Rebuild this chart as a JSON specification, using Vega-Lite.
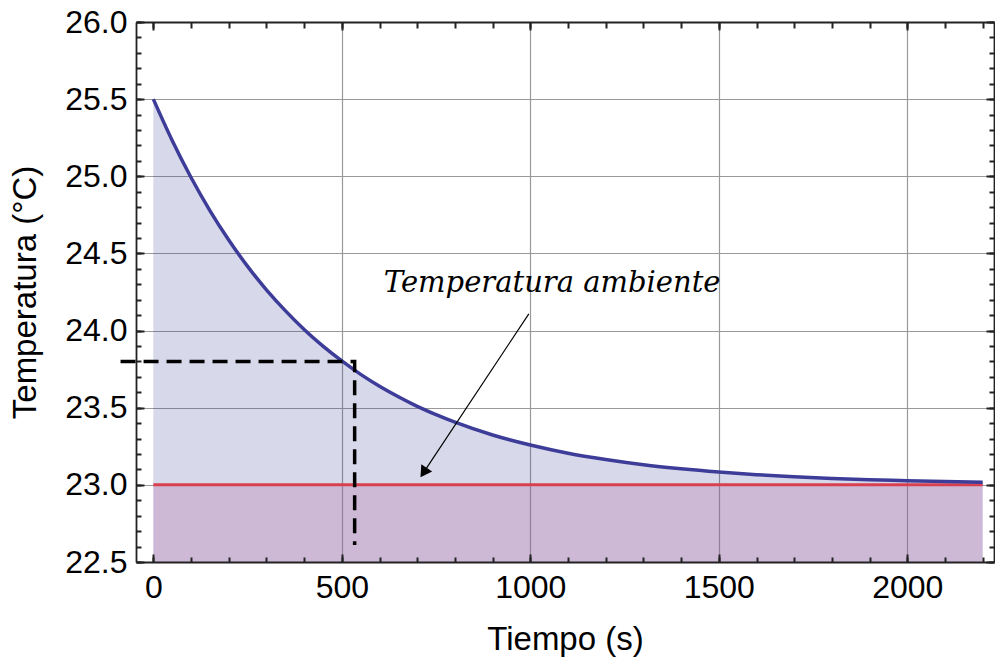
{
  "$schema": "https://vega.github.io/schema/vega-lite/v6.json",
  "width": 858,
  "height": 540,
  "autosize": {"type": "none"},
  "padding": {"left": 136, "top": 22, "right": 1, "bottom": 99},
  "background": "white",
  "config": {
    "view": {"stroke": null},
    "axis": {
      "labelFont": "Liberation Sans",
      "titleFont": "Liberation Sans",
      "labelFontSize": 32,
      "titleFontSize": 33,
      "labelColor": "black",
      "titleColor": "black",
      "titleFontWeight": "normal",
      "domainColor": "#222222",
      "domainWidth": 1.8,
      "gridColor": "#999999",
      "gridWidth": 1.2
    }
  },
  "datasets": {
    "curve": [
      {"t": 0, "T": 25.5}, {"t": 50, "T": 25.232}, {"t": 100, "T": 24.992}, {"t": 150, "T": 24.778},
      {"t": 200, "T": 24.587}, {"t": 250, "T": 24.416}, {"t": 300, "T": 24.264}, {"t": 350, "T": 24.129},
      {"t": 400, "T": 24.007}, {"t": 450, "T": 23.899}, {"t": 500, "T": 23.803}, {"t": 550, "T": 23.716},
      {"t": 600, "T": 23.639}, {"t": 650, "T": 23.571}, {"t": 700, "T": 23.509}, {"t": 750, "T": 23.455},
      {"t": 800, "T": 23.406}, {"t": 900, "T": 23.323}, {"t": 1000, "T": 23.258}, {"t": 1100, "T": 23.205},
      {"t": 1200, "T": 23.164}, {"t": 1300, "T": 23.13}, {"t": 1400, "T": 23.104}, {"t": 1500, "T": 23.083},
      {"t": 1600, "T": 23.066}, {"t": 1700, "T": 23.053}, {"t": 1800, "T": 23.042}, {"t": 1900, "T": 23.033},
      {"t": 2000, "T": 23.027}, {"t": 2100, "T": 23.021}, {"t": 2200, "T": 23.017}
    ],
    "ambient": [{"t": 0, "T": 23.0}, {"t": 2200, "T": 23.0}],
    "dashed": [{"t": -87, "T": 23.8}, {"t": 534, "T": 23.8}, {"t": 534, "T": 22.61}],
    "arrow": [{"t": 996, "T": 24.108}, {"t": 714, "T": 23.07}],
    "arrowhead": [{"t": 717, "T": 23.08}],
    "label": [{"t": 1058, "T": 24.309, "label": "Temperatura ambiente"}]
  },
  "resolve": {"axis": {"x": "independent", "y": "independent"}},
  "layer": [
    {
      "data": {"name": "curve"},
      "mark": {"type": "area", "fill": "#3d3d99", "fillOpacity": 0.2, "interpolate": "monotone"},
      "encoding": {
        "x": {"field": "t", "type": "quantitative", "scale": {"domain": [-46, 2230], "nice": false, "zero": false},
          "axis": {"values": [0, 500, 1000, 1500, 2000], "grid": true, "ticks": false, "labels": false, "domain": false, "title": null,
            "gridOpacity": {"condition": {"test": "datum.value === 0", "value": 0}, "value": 1}}},
        "y": {"field": "T", "type": "quantitative", "scale": {"domain": [22.5, 26.0], "nice": false, "zero": false},
          "axis": {"values": [23.0, 23.5, 24.0, 24.5, 25.0, 25.5], "grid": true, "ticks": false, "labels": false, "domain": false, "title": null}},
        "y2": {"datum": 22.5}
      }
    },
    {
      "data": {"name": "ambient"},
      "mark": {"type": "area", "fill": "#b371a2", "fillOpacity": 0.3},
      "encoding": {
        "x": {"field": "t", "type": "quantitative", "scale": {"domain": [-46, 2230], "nice": false, "zero": false},
          "axis": {"orient": "bottom", "values": [0, 500, 1000, 1500, 2000], "format": "d", "grid": false, "ticks": false, "labels": true, "domain": true,
            "labelPadding": 10, "title": "Tiempo (s)", "titlePadding": 20, "zindex": 1}},
        "y": {"field": "T", "type": "quantitative", "scale": {"domain": [22.5, 26.0], "nice": false, "zero": false},
          "axis": {"orient": "left", "values": [22.5, 23.0, 23.5, 24.0, 24.5, 25.0, 25.5, 26.0], "format": ".1f", "grid": false, "ticks": false,
            "labels": true, "domain": true, "labelPadding": 9, "title": "Temperatura (°C)", "titlePadding": 22, "zindex": 1}},
        "y2": {"datum": 22.5}
      }
    },
    {
      "data": {"name": "ambient"},
      "mark": {"type": "line", "color": "#d9404f", "strokeWidth": 3},
      "encoding": {
        "x": {"field": "t", "type": "quantitative", "scale": {"domain": [-46, 2230], "nice": false, "zero": false},
          "axis": {"orient": "bottom", "values": [0, 500, 1000, 1500, 2000], "grid": false, "ticks": true, "tickSize": {"expr": "-8"}, "tickColor": "#222222", "tickWidth": 2, "tickOpacity": 1, "labels": false, "domain": false, "title": null, "zindex": 1}},
        "y": {"field": "T", "type": "quantitative", "scale": {"domain": [22.5, 26.0], "nice": false, "zero": false},
          "axis": {"orient": "left", "values": [22.5, 23.0, 23.5, 24.0, 24.5, 25.0, 25.5, 26.0], "grid": false, "ticks": true, "tickSize": {"expr": "-8"}, "tickColor": "#222222", "tickWidth": 2, "tickOpacity": 1, "labels": false, "domain": false, "title": null, "zindex": 1}}
      }
    },
    {
      "data": {"name": "curve"},
      "mark": {"type": "line", "color": "#3d3d99", "strokeWidth": 3.5, "interpolate": "monotone"},
      "encoding": {
        "x": {"field": "t", "type": "quantitative", "scale": {"domain": [-46, 2230], "nice": false, "zero": false},
          "axis": {"orient": "bottom", "values": [0, 100, 200, 300, 400, 500, 600, 700, 800, 900, 1000, 1100, 1200, 1300, 1400, 1500, 1600, 1700, 1800, 1900, 2000, 2100, 2200],
            "grid": false, "ticks": true, "tickSize": {"expr": "-5"}, "tickColor": "#222222", "tickWidth": 2, "tickOpacity": 1, "labels": false, "domain": false, "title": null, "zindex": 1}},
        "y": {"field": "T", "type": "quantitative", "scale": {"domain": [22.5, 26.0], "nice": false, "zero": false},
          "axis": {"orient": "left", "values": [22.5, 22.6, 22.7, 22.8, 22.9, 23.0, 23.1, 23.2, 23.3, 23.4, 23.5, 23.6, 23.7, 23.8, 23.9, 24.0, 24.1, 24.2, 24.3, 24.4, 24.5, 24.6, 24.7, 24.8, 24.9, 25.0, 25.1, 25.2, 25.3, 25.4, 25.5, 25.6, 25.7, 25.8, 25.9, 26.0],
            "grid": false, "ticks": true, "tickSize": {"expr": "-5"}, "tickColor": "#222222", "tickWidth": 2, "tickOpacity": 1, "labels": false, "domain": false, "title": null, "zindex": 1}}
      }
    },
    {
      "data": {"name": "dashed"},
      "mark": {"type": "line", "color": "black", "strokeWidth": 3.5, "strokeDash": [15, 8], "clip": false},
      "encoding": {
        "x": {"field": "t", "type": "quantitative", "scale": {"domain": [-46, 2230], "nice": false, "zero": false},
          "axis": {"orient": "top", "values": [0, 500, 1000, 1500, 2000], "grid": false, "ticks": true, "tickSize": {"expr": "-8"}, "tickColor": "#222222", "tickWidth": 2, "tickOpacity": 1, "labels": false, "domain": true, "title": null, "zindex": 1}},
        "y": {"field": "T", "type": "quantitative", "scale": {"domain": [22.5, 26.0], "nice": false, "zero": false},
          "axis": {"orient": "right", "values": [22.5, 23.0, 23.5, 24.0, 24.5, 25.0, 25.5, 26.0], "grid": false, "ticks": true, "tickSize": {"expr": "-8"}, "tickColor": "#222222", "tickWidth": 2, "tickOpacity": 1, "labels": false, "domain": true, "title": null, "zindex": 1}},
        "order": {"field": "t", "type": "quantitative", "sort": "ascending"}
      }
    },
    {
      "data": {"name": "arrow"},
      "mark": {"type": "line", "color": "black", "strokeWidth": 1.2},
      "encoding": {
        "x": {"field": "t", "type": "quantitative", "scale": {"domain": [-46, 2230], "nice": false, "zero": false},
          "axis": {"orient": "top", "values": [0, 100, 200, 300, 400, 500, 600, 700, 800, 900, 1000, 1100, 1200, 1300, 1400, 1500, 1600, 1700, 1800, 1900, 2000, 2100, 2200],
            "grid": false, "ticks": true, "tickSize": {"expr": "-6"}, "tickColor": "#222222", "tickWidth": 2, "tickOpacity": 1, "labels": false, "domain": false, "title": null, "zindex": 1}},
        "y": {"field": "T", "type": "quantitative", "scale": {"domain": [22.5, 26.0], "nice": false, "zero": false},
          "axis": {"orient": "right", "values": [22.5, 22.6, 22.7, 22.8, 22.9, 23.0, 23.1, 23.2, 23.3, 23.4, 23.5, 23.6, 23.7, 23.8, 23.9, 24.0, 24.1, 24.2, 24.3, 24.4, 24.5, 24.6, 24.7, 24.8, 24.9, 25.0, 25.1, 25.2, 25.3, 25.4, 25.5, 25.6, 25.7, 25.8, 25.9, 26.0],
            "grid": false, "ticks": true, "tickSize": {"expr": "-5"}, "tickColor": "#222222", "tickWidth": 2, "tickOpacity": 1, "labels": false, "domain": false, "title": null, "zindex": 1}}
      }
    },
    {
      "data": {"name": "arrowhead"},
      "mark": {"type": "point", "shape": "triangle-up", "filled": true, "color": "black", "opacity": 1, "size": 170, "angle": 213.6},
      "encoding": {
        "x": {"field": "t", "type": "quantitative", "scale": {"domain": [-46, 2230], "nice": false, "zero": false}, "axis": null},
        "y": {"field": "T", "type": "quantitative", "scale": {"domain": [22.5, 26.0], "nice": false, "zero": false}, "axis": null}
      }
    },
    {
      "data": {"name": "label"},
      "mark": {"type": "text", "font": "DejaVu Serif", "fontStyle": "italic", "fontSize": 29, "align": "center", "baseline": "middle", "color": "black"},
      "encoding": {
        "x": {"field": "t", "type": "quantitative", "scale": {"domain": [-46, 2230], "nice": false, "zero": false}, "axis": null},
        "y": {"field": "T", "type": "quantitative", "scale": {"domain": [22.5, 26.0], "nice": false, "zero": false}, "axis": null},
        "text": {"field": "label"}
      }
    }
  ]
}
